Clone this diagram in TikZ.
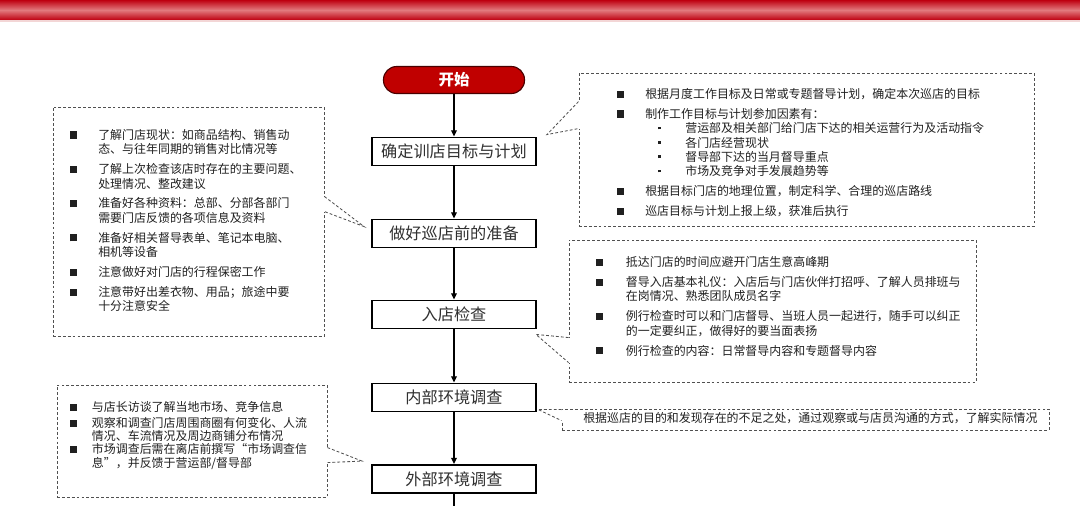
\documentclass[tikz,border=0pt]{standalone}
\usepackage{fontspec}
\setmainfont{Noto Sans CJK SC}
\usepackage{xcolor}
\usetikzlibrary{arrows.meta, positioning, calc}
\definecolor{BarRed}{HTML}{BE0010}
\definecolor{BarPink}{HTML}{E27A7E}
\definecolor{BarEdge}{HTML}{F3D6D6}
\definecolor{StartRed}{HTML}{C00000}
\definecolor{StartEdge}{HTML}{4A0000}
\definecolor{StepText}{HTML}{303030}
\definecolor{NoteText}{HTML}{202020}
\definecolor{NoteLine}{HTML}{505050}
\newcommand{\sqb}[1][0.7cm]{\makebox[#1][l]{\rule[0.6pt]{5pt}{5pt}}}
\newcommand{\subb}{\hspace*{1.025cm}\makebox[0.675cm][l]{\rule[2.4pt]{1.8pt}{1.8pt}}}
\newcommand{\hang}[1][0.7cm]{\hspace*{#1}}
\tikzset{
    startbox/.style={
        draw=StartEdge,
        line width=0.8pt,
        fill=StartRed,
        rounded corners=0.33cm,
        minimum width=3.525cm,
        minimum height=0.675cm,
        text=white,
        font=\fontsize{11}{13}\selectfont\bfseries
    },
    stepbox/.style={
        draw=black,
        line width=1.3pt,
        fill=white,
        minimum width=4.1cm,
        minimum height=0.7cm,
        inner sep=0pt,
        text=StepText,
        font=\fontsize{11.5}{13}\selectfont
    },
    notebox/.style={
        draw=NoteLine,
        line width=0.6pt,
        dash pattern=on 2pt off 1.5pt,
        inner sep=0pt
    },
    notetext/.style={
        anchor=north west,
        inner sep=0pt,
        align=left,
        text=NoteText,
        font=\fontsize{8.5}{10.2}\selectfont
    },
    flow/.style={
        -{Triangle[length=4.5pt,width=4pt]},
        line width=1pt,
        black
    },
    pointer/.style={
        draw=NoteLine,
        line width=0.6pt,
        dash pattern=on 2pt off 1.5pt
    },
    eraser/.style={
        draw=white,
        line width=2pt
    }
}
\begin{document}
\begin{tikzpicture}[x=0.025cm, y=-0.025cm]
    \useasboundingbox (0,0) rectangle (1080,506);
    % Title bar
    \shade[top color=BarRed, bottom color=BarRed, middle color=BarPink] (0,0) rectangle (1080,20);
    \fill[BarEdge] (0,20) rectangle (1080,22);

    % Flow steps
    \node[startbox] (start) at (454,80) {开始};
    \node[stepbox] (s1) at (454,151.5) {确定训店目标与计划};
    \node[stepbox] (s2) at (454,233.5) {做好巡店前的准备};
    \node[stepbox] (s3) at (454,314.5) {入店检查};
    \node[stepbox] (s4) at (454,397.5) {内部环境调查};
    \node[stepbox] (s5) at (454,479) {外部环境调查};
    \coordinate (next) at (454,506);

    \draw[flow] (start) -- (s1);
    \draw[flow] (s1) -- (s2);
    \draw[flow] (s2) -- (s3);
    \draw[flow] (s3) -- (s4);
    \draw[flow] (s4) -- (s5);
    \draw[line width=1pt] (s5) -- (next);

    % Planning notes
    \node[notebox, minimum width=11.375cm, minimum height=3.825cm] (c1) at (806.5,149.5) {};
    \coordinate (c1a) at ($(c1.north west)+(0,29)$);
    \coordinate (c1b) at ($(c1.north west)+(0,56)$);
    \coordinate (c1tip) at ($(s1.north east)+(10,-2)$);
    \draw[eraser] (c1a) -- (c1b);
    \draw[pointer] (c1a) -- (c1tip) -- (c1b);
    \node[notetext] (t1) at (617,88) {
        \sqb 根据月度工作目标及日常或专题督导计划，确定本次巡店的目标\\[4pt]
        \sqb 制作工作目标与计划参加因素有：\\
        \subb 营运部及相关部门给门店下达的相关运营行为及活动指令\\
        \subb 各门店经营现状\\
        \subb 督导部下达的当月督导重点\\
        \subb 市场及竞争对手发展趋势等\\[4pt]
        \sqb 根据目标门店的地理位置，制定科学、合理的巡店路线\\[4pt]
        \sqb 巡店目标与计划上报上级，获准后执行
    };

    % Preparation notes
    \node[notebox, minimum width=6.775cm, minimum height=5.725cm] (c2) at (188.5,221.5) {};
    \coordinate (c2a) at ($(c2.north east)+(0,90)$);
    \coordinate (c2b) at ($(c2.north east)+(0,105)$);
    \coordinate (c2tip) at ($(s2.north west)+(-7,8)$);
    \draw[eraser] (c2a) -- (c2b);
    \draw[pointer] (c2a) -- (c2tip) -- (c2b);
    \node[notetext] (t2) at (70,129) {
        \sqb 了解门店现状：如商品结构、销售动\\
        \hang 态、与往年同期的销售对比情况等\\[4pt]
        \sqb 了解上次检查该店时存在的主要问题、\\
        \hang 处理情况、整改建议\\[4pt]
        \sqb 准备好各种资料：总部、分部各部门\\
        \hang 需要门店反馈的各项信息及资料\\[4pt]
        \sqb 准备好相关督导表单、笔记本电脑、\\
        \hang 相机等设备\\[4pt]
        \sqb 注意做好对门店的行程保密工作\\[4pt]
        \sqb 注意带好出差衣物、用品；旅途中要\\
        \hang 十分注意安全
    };

    % Store check notes
    \node[notebox, minimum width=10.175cm, minimum height=3.55cm] (c3) at (772.5,311) {};
    \coordinate (c3a) at ($(c3.north west)+(0,98)$);
    \coordinate (c3b) at ($(c3.north west)+(0,123)$);
    \coordinate (c3tip) at ($(s3.south east)+(-1,5)$);
    \draw[eraser] (c3a) -- (c3b);
    \draw[pointer] (c3a) -- (c3tip) -- (c3b);
    \node[notetext] (t3) at (596,256) {
        \sqb[0.675cm] 抵达门店的时间应避开门店生意高峰期\\[4pt]
        \sqb[0.675cm] 督导入店基本礼仪：入店后与门店伙伴打招呼、了解人员排班与\\
        \hang[0.675cm] 在岗情况、熟悉团队成员名字\\[4pt]
        \sqb[0.675cm] 例行检查时可以和门店督导、当班人员一起进行，随手可以纠正\\
        \hang[0.675cm] 的一定要纠正，做得好的要当面表扬\\[4pt]
        \sqb[0.675cm] 例行检查的内容：日常督导内容和专题督导内容
    };

    % Inside check note
    \node[notebox, minimum width=12.175cm, minimum height=0.525cm] (c4) at (805.5,419.5) {};
    \coordinate (c4a) at ($(c4.north west)+(0,1)$);
    \coordinate (c4b) at ($(c4.north west)+(0,12)$);
    \coordinate (c4tip) at ($(s4.south east)+(1,-3)$);
    \draw[eraser] (c4a) -- (c4b);
    \draw[pointer] (c4a) -- (c4tip) -- (c4b);
    \node[notetext, anchor=west] (t4) at (583,418) {根据巡店的目的和发现存在的不足之处，通过观察或与店员沟通的方式，了解实际情况};

    % Outside check notes
    \node[notebox, minimum width=6.75cm, minimum height=2.8cm] (c5) at (192,441) {};
    \coordinate (c5a) at ($(c5.north east)+(0,63)$);
    \coordinate (c5b) at ($(c5.north east)+(0,78)$);
    \coordinate (c5tip) at ($(s5.north west)+(-9,-3)$);
    \draw[eraser] (c5a) -- (c5b);
    \draw[pointer] (c5a) -- (c5tip) -- (c5b);
    \node[notetext, font=\fontsize{8.5}{9.4}\selectfont] (t5) at (70,401) {
        \sqb[0.475cm] 与店长访谈了解当地市场、竞争信息\\[2pt]
        \sqb[0.475cm] 观察和调查门店周围商圈有何变化、人流\\
        \hang[0.475cm] 情况、车流情况及周边商铺分布情况\\
        \sqb[0.475cm] 市场调查后需在离店前撰写“市场调查信\\
        \hang[0.475cm] 息”，并反馈于营运部/督导部
    };
\end{tikzpicture}
\end{document}
